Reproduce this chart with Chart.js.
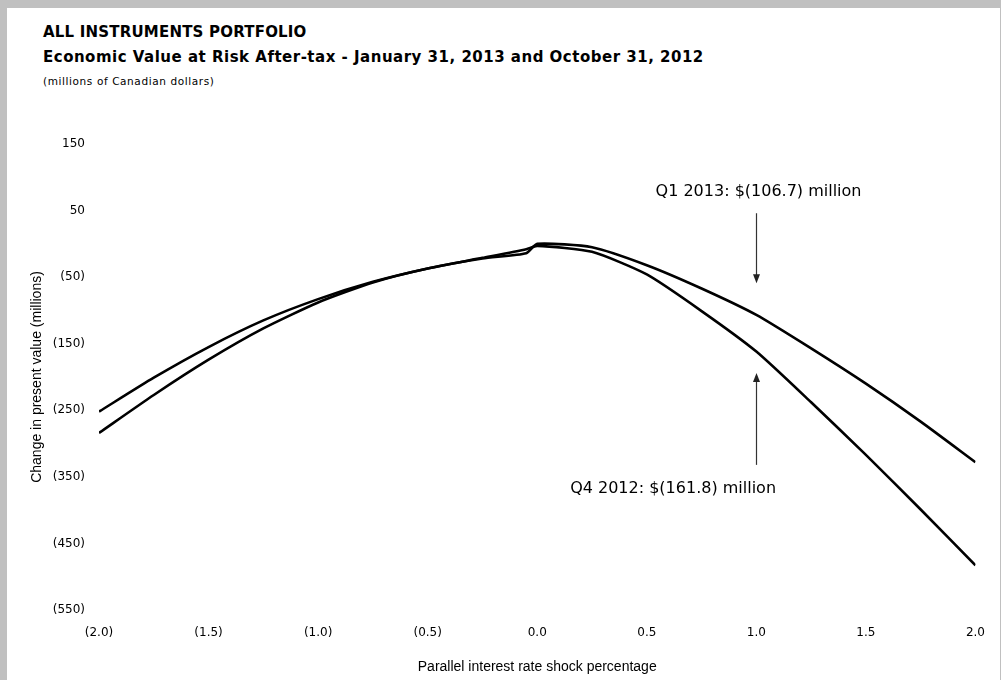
<!DOCTYPE html>
<html>
<head>
<meta charset="utf-8">
<script src="https://cdn.jsdelivr.net/npm/chart.js@4"></script>
<style>
html,body{margin:0;padding:0;background:#c0c0c0;width:1001px;height:680px;overflow:hidden;font-family:"DejaVu Sans",sans-serif;}
#panel{position:absolute;left:7px;top:8px;width:993px;height:672px;background:#fff;}
.hd{position:absolute;left:43px;white-space:nowrap;color:#000;line-height:1;}
#t1{top:25px;font-size:15px;font-weight:bold;letter-spacing:0.2px;}
#t2{top:50px;font-size:15px;font-weight:bold;letter-spacing:0.5px;}
#t3{top:76px;font-size:10.5px;letter-spacing:0.6px;}
#wrap{position:absolute;left:0;top:0;width:1001px;height:680px;}
</style>
</head>
<body>
<div id="panel"></div>
<div class="hd" id="t1">ALL INSTRUMENTS PORTFOLIO</div>
<div class="hd" id="t2">Economic Value at Risk After-tax - January 31, 2013 and October 31, 2012</div>
<div class="hd" id="t3">(millions of Canadian dollars)</div>
<div id="wrap"><canvas id="chart" width="1001" height="680"></canvas></div>
<script>
// ===== DATA =====
const shocks  = [-2, -1.75, -1.5, -1.25, -1, -0.75, -0.5, -0.25, -0.05, 0, 0.25, 0.5, 0.75, 1, 1.25, 1.5, 1.75, 2];
const q1_2013 = [-284, -227, -174, -127, -88, -58, -37, -22, -14, 0, -5, -32, -67, -106.7, -157, -210, -267, -328];
const q4_2012 = [-252, -201, -155, -115, -83, -57, -37, -21, -8, -3, -12, -46, -101, -161.8, -238, -317, -399, -483];

const notes = [
  {text:'Q1 2013: $(106.7) million', x:1.01, y:78, arrowX:1.0, from:46, to:-59},
  {text:'Q4 2012: $(161.8) million', x:0.62, y:-368, arrowX:1.0, from:-332, to:-194}
];

// ===== HELPERS =====
const paren = (v,d) => v<0 ? `(${Math.abs(v).toFixed(d)})` : v.toFixed(d);
const pts = arr => shocks.map((s,i)=>({x:s,y:arr[i]}));

// ===== ANNOTATIONS =====
const notesPlugin = {
  id:'notes',
  afterDatasetsDraw(chart){
    const {ctx, scales:{x,y}} = chart;
    ctx.save();
    ctx.font = '16px "DejaVu Sans"';
    ctx.textAlign = 'center';
    ctx.textBaseline = 'middle';
    notes.forEach(n=>{
      ctx.fillStyle = '#000';
      ctx.fillText(n.text, x.getPixelForValue(n.x), y.getPixelForValue(n.y));
      const ax = Math.round(x.getPixelForValue(n.arrowX))+0.5;
      const y0 = y.getPixelForValue(n.from), y1 = y.getPixelForValue(n.to);
      const dir = y1>y0 ? 1 : -1;
      ctx.strokeStyle = '#333';
      ctx.lineWidth = 1.2;
      ctx.beginPath(); ctx.moveTo(ax,y0); ctx.lineTo(ax,y1-dir*8); ctx.stroke();
      ctx.fillStyle = '#222';
      ctx.beginPath();
      ctx.moveTo(ax,y1); ctx.lineTo(ax-3.5,y1-dir*9); ctx.lineTo(ax+3.5,y1-dir*9);
      ctx.closePath(); ctx.fill();
    });
    ctx.restore();
  }
};

// ===== CHART =====
const line = data => ({data, borderColor:'#000', borderWidth:2.6, pointRadius:0, tension:0.2, fill:false});

new Chart(document.getElementById('chart'),{
  type:'line',
  data:{datasets:[
    {label:'Q1 2013', ...line(pts(q1_2013))},
    {label:'Q4 2012', ...line(pts(q4_2012))}
  ]},
  options:{
    responsive:false,
    animation:false,
    layout:{padding:{left:0,right:22,top:144,bottom:0}},
    plugins:{legend:{display:false},tooltip:{enabled:false}},
    scales:{
      x:{
        type:'linear', min:-2, max:2,
        grid:{display:false,drawTicks:false}, border:{display:false},
        ticks:{stepSize:0.5, padding:16, color:'#000', font:{family:'DejaVu Sans',size:12}, callback:v=>paren(v,1)},
        title:{display:true, text:'Parallel interest rate shock percentage', color:'#000', font:{family:'Liberation Sans',size:14}, padding:{top:0,bottom:4.6}},
        afterFit:s=>{s.height=70;}
      },
      y:{
        min:-550, max:150,
        grid:{display:false,drawTicks:false}, border:{display:false},
        ticks:{stepSize:100, padding:14, color:'#000', font:{family:'DejaVu Sans',size:12}, callback:v=>paren(v,0)},
        title:{display:true, text:'Change in present value (millions)', color:'#000', font:{family:'Liberation Sans',size:14}, padding:{top:28.6,bottom:0}},
        afterFit:s=>{s.width=99;}
      }
    }
  },
  plugins:[notesPlugin]
});
</script>
</body>
</html>
